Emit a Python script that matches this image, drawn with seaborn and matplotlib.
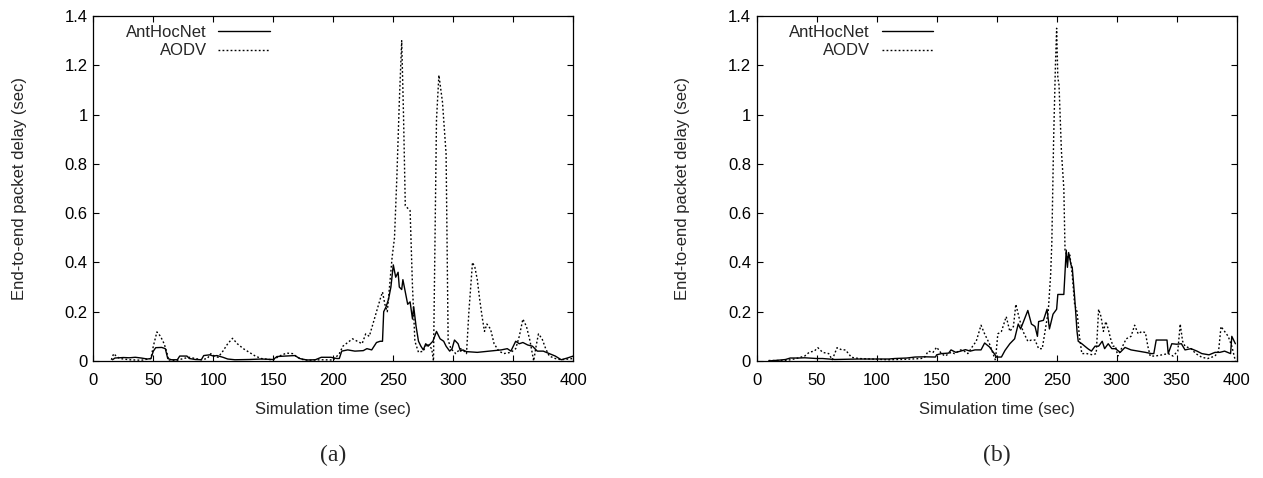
import numpy as np
import pandas as pd
import matplotlib
matplotlib.use("Agg")
import matplotlib.pyplot as plt
import seaborn as sns

# ---------------- data ----------------
series_names = ["AntHocNet", "AODV"]
panel_labels = ["(a)", "(b)"]
x_ticks = [0, 50, 100, 150, 200, 250, 300, 350, 400]
y_ticks = [0, 0.2, 0.4, 0.6, 0.8, 1.0, 1.2, 1.4]
y_tick_labels = ["0", "0.2", "0.4", "0.6", "0.8", "1", "1.2", "1.4"]

a_ant_t = [16, 18, 25, 30, 35, 40, 45, 48, 50, 52, 57, 60, 62, 65, 70, 72, 78, 80, 85, 90,
           92, 97, 100, 103, 108, 112, 118, 130, 140, 150, 153, 160, 168, 172, 178, 185, 190,
           198, 203, 205, 207, 212, 218, 225, 228, 232, 236, 239, 241, 242, 244, 246, 248,
           250, 252, 254, 255, 257, 258, 260, 262, 264, 266, 267, 269, 271, 273, 275, 277,
           279, 281, 283, 286, 289, 292, 294, 297, 299, 301, 304, 306, 308, 311, 320, 330,
           340, 345, 348, 352, 355, 358, 362, 366, 370, 375, 380, 385, 390, 395, 400]
a_ant_v = [0.005, 0.012, 0.014, 0.013, 0.015, 0.012, 0.008, 0.01, 0.04, 0.054, 0.055, 0.05,
           0.01, 0.005, 0.005, 0.02, 0.02, 0.01, 0.006, 0.005, 0.022, 0.025, 0.02, 0.022,
           0.015, 0.008, 0.005, 0.006, 0.008, 0.006, 0.018, 0.02, 0.022, 0.01, 0.004, 0.005,
           0.015, 0.015, 0.01, 0.01, 0.04, 0.045, 0.04, 0.042, 0.05, 0.045, 0.075, 0.08, 0.08,
           0.2, 0.22, 0.25, 0.3, 0.39, 0.34, 0.36, 0.3, 0.29, 0.33, 0.28, 0.23, 0.24, 0.17,
           0.22, 0.14, 0.08, 0.06, 0.045, 0.07, 0.06, 0.07, 0.08, 0.12, 0.09, 0.08, 0.06,
           0.04, 0.05, 0.085, 0.07, 0.04, 0.045, 0.038, 0.035, 0.04, 0.045, 0.05, 0.04, 0.08,
           0.07, 0.075, 0.065, 0.06, 0.04, 0.04, 0.03, 0.02, 0.005, 0.012, 0.02]

a_aodv_t = [15, 17, 19, 22, 30, 40, 48, 50, 53, 56, 59, 61, 63, 70, 75, 80, 85, 90, 95, 98,
            101, 104, 108, 112, 116, 120, 125, 130, 135, 140, 150, 155, 161, 166, 170, 175,
            180, 190, 200, 205, 208, 212, 216, 220, 224, 227, 230, 233, 236, 239, 241, 243,
            245, 247, 249, 251, 253, 255, 257, 258.5, 260, 264, 266, 268, 271, 275, 278, 280,
            282, 283.5, 286, 288, 291, 294, 295.7, 298, 302, 306, 309, 311, 313, 316, 318,
            320, 322, 324, 326, 328, 331, 334, 338, 342, 348, 352, 355, 358, 361, 364, 367,
            369, 371, 374, 377, 380, 385, 390, 400]
a_aodv_v = [0.005, 0.03, 0.02, 0.01, 0.005, 0.003, 0.01, 0.06, 0.118, 0.1, 0.07, 0.04, 0.0,
            0.003, 0.01, 0.015, 0.01, 0.005, 0.01, 0.03, 0.02, 0.015, 0.04, 0.07, 0.092,
            0.07, 0.05, 0.035, 0.02, 0.01, 0.004, 0.02, 0.032, 0.03, 0.015, 0.005, 0.003,
            0.005, 0.004, 0.03, 0.06, 0.075, 0.09, 0.08, 0.07, 0.11, 0.1, 0.15, 0.2, 0.25,
            0.28, 0.23, 0.2, 0.31, 0.42, 0.5, 0.75, 1.05, 1.3, 1.0, 0.63, 0.61, 0.3, 0.08,
            0.035, 0.04, 0.07, 0.06, 0.05, 0.0, 0.98, 1.16, 1.05, 0.84, 0.085, 0.05, 0.03,
            0.05, 0.04, 0.03, 0.2, 0.4, 0.38, 0.33, 0.25, 0.18, 0.12, 0.15, 0.13, 0.07, 0.04,
            0.03, 0.035, 0.05, 0.1, 0.17, 0.14, 0.08, 0.0, 0.06, 0.11, 0.09, 0.05, 0.02, 0.01,
            0.005, 0.01]

b_ant_t = [10, 15, 20, 24, 28, 35, 40, 50, 55, 65, 75, 85, 95, 110, 115, 125, 132, 140, 149,
           150, 154, 160, 162, 166, 170, 174, 178, 182, 187, 190, 194, 198, 200, 204, 207,
           211, 215, 218, 220, 224, 226, 229, 232, 234, 235, 239, 242, 244, 247, 250, 251,
           256, 258, 259, 260, 262, 263, 265, 267, 268, 271, 276, 279, 282, 285, 288, 290,
           293, 296, 299, 303, 307, 312, 318, 324, 329, 331, 333, 338, 342, 343, 346, 350,
           354, 357, 362, 367, 371, 377, 382, 386, 390, 395, 396, 399]
b_ant_v = [0.0, 0.002, 0.004, 0.006, 0.012, 0.012, 0.013, 0.01, 0.01, 0.006, 0.007, 0.008,
           0.008, 0.008, 0.01, 0.012, 0.016, 0.017, 0.016, 0.025, 0.03, 0.032, 0.045, 0.035,
           0.04, 0.046, 0.04, 0.045, 0.045, 0.073, 0.057, 0.03, 0.016, 0.016, 0.043, 0.07,
           0.09, 0.15, 0.13, 0.18, 0.205, 0.15, 0.14, 0.1, 0.16, 0.165, 0.21, 0.13, 0.19,
           0.21, 0.27, 0.27, 0.45, 0.38, 0.44, 0.39, 0.38, 0.26, 0.12, 0.08, 0.07, 0.05,
           0.04, 0.06, 0.06, 0.08, 0.05, 0.07, 0.05, 0.05, 0.035, 0.055, 0.045, 0.04, 0.035,
           0.03, 0.03, 0.085, 0.085, 0.085, 0.03, 0.07, 0.068, 0.07, 0.045, 0.05, 0.04, 0.03,
           0.025, 0.035, 0.035, 0.04, 0.03, 0.1, 0.07]

b_aodv_t = [10, 25, 33, 40, 44, 48, 51, 55, 60, 63, 67, 71, 74, 79, 85, 95, 110, 125, 137,
            140, 143, 147, 150, 154, 157, 162, 165, 170, 173, 176, 180, 183, 187, 190, 194,
            197, 199, 201, 204, 208, 211, 214, 216, 219, 222, 226, 229, 232, 235, 238, 241,
            243, 245, 246, 247.5, 249, 250, 251, 252, 254, 256, 257, 259, 261, 263, 265, 267,
            269, 271, 275, 280, 283, 285, 287, 289, 291, 293, 295, 297, 299, 301, 304, 308,
            312, 315, 318, 321, 324, 326, 328, 332, 338, 343, 347, 351, 353, 355, 357, 362,
            366, 371, 376, 382, 385, 387, 390, 393, 396, 399]
b_aodv_v = [0.002, 0.002, 0.01, 0.02, 0.036, 0.04, 0.054, 0.035, 0.03, 0.005, 0.054, 0.045,
            0.045, 0.015, 0.01, 0.008, 0.005, 0.007, 0.01, 0.015, 0.04, 0.035, 0.056, 0.03,
            0.02, 0.035, 0.03, 0.045, 0.04, 0.03, 0.06, 0.08, 0.145, 0.11, 0.07, 0.03, 0.003,
            0.11, 0.12, 0.18, 0.12, 0.14, 0.23, 0.17, 0.12, 0.08, 0.085, 0.085, 0.05, 0.05,
            0.14, 0.2, 0.35, 0.48, 0.9, 1.2, 1.35, 1.15, 1.12, 0.85, 0.7, 0.45, 0.42, 0.43,
            0.35, 0.23, 0.2, 0.1, 0.03, 0.03, 0.025, 0.03, 0.21, 0.18, 0.12, 0.16, 0.13, 0.09,
            0.06, 0.06, 0.02, 0.05, 0.09, 0.1, 0.145, 0.11, 0.12, 0.115, 0.06, 0.02, 0.02,
            0.025, 0.03, 0.02, 0.04, 0.15, 0.08, 0.06, 0.05, 0.03, 0.015, 0.01, 0.02, 0.04,
            0.14, 0.12, 0.1, 0.06, 0.0]

x_label = "Simulation time (sec)"
y_label = "End-to-end packet delay (sec)"

# ---------------- style ----------------
sns.set_theme(style="ticks", rc={
    "xtick.direction": "in", "ytick.direction": "in",
    "xtick.top": True, "ytick.right": True,
    "axes.edgecolor": "black", "axes.linewidth": 0.9,
    "xtick.color": "black", "ytick.color": "black",
    "xtick.major.size": 4.5, "ytick.major.size": 4.5,
    "xtick.major.width": 0.8, "ytick.major.width": 0.8,
})
plt.rcParams["font.family"] = ["Liberation Sans", "DejaVu Sans"]

FS = 12

fig = plt.figure(figsize=(12.63, 4.78), dpi=100)
ax_a = fig.add_axes([0.0739, 0.2448, 0.3800, 0.7218])
ax_b = fig.add_axes([0.5991, 0.2448, 0.3800, 0.7218])

panels = [
    (ax_a, a_ant_t, a_ant_v, a_aodv_t, a_aodv_v, panel_labels[0]),
    (ax_b, b_ant_t, b_ant_v, b_aodv_t, b_aodv_v, panel_labels[1]),
]

for ax, at, av, dt, dv, plab in panels:
    sns.lineplot(x=at, y=av, ax=ax, color="black", linewidth=1.0,
                 label=series_names[0], estimator=None, sort=False)
    sns.lineplot(x=dt, y=dv, ax=ax, color="black", linewidth=1.0,
                 linestyle=(0, (1.3, 1.6)), label=series_names[1],
                 estimator=None, sort=False)
    ax.set_xlim(0, 400)
    ax.set_ylim(0, 1.4)
    ax.set_xticks(x_ticks)
    ax.set_xticklabels([str(v) for v in x_ticks])
    ax.set_yticks(y_ticks)
    ax.set_yticklabels(y_tick_labels)
    ax.tick_params(axis="x", labelsize=FS, pad=8.5)
    ax.tick_params(axis="y", labelsize=FS, pad=4)
    ax.set_xlabel(x_label, fontsize=FS, labelpad=10)
    ax.set_ylabel(y_label, fontsize=FS, labelpad=27)
    for s in ax.spines.values():
        s.set_visible(True)
    ax.legend(loc="upper right", bbox_to_anchor=(0.382, 0.993), frameon=False,
              markerfirst=False, fontsize=FS, handlelength=3.1,
              handletextpad=0.7, labelspacing=0.2, borderaxespad=0.0)
    ax.text(0.5, -0.2725, plab, transform=ax.transAxes, ha="center", va="center",
            fontsize=17, family=["Liberation Serif", "DejaVu Serif"])

fig.savefig("out.png", dpi=100)
